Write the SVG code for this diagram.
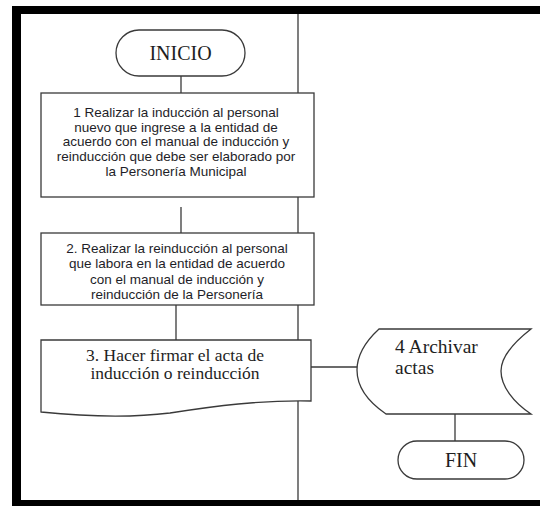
<svg xmlns="http://www.w3.org/2000/svg" width="540" height="506" viewBox="0 0 540 506">
<style>
.shape{fill:#fff;stroke:#3a3a3a;stroke-width:1.3}
.line{fill:none;stroke:#3a3a3a;stroke-width:1.3}
.sans{font-family:"Liberation Sans",Arial,sans-serif;font-size:13.5px;fill:#1e1e28;text-anchor:middle}
.serif{font-family:"Liberation Serif","Times New Roman",serif;fill:#1e1e1e}
</style>
<rect x="0" y="0" width="540" height="506" fill="#fff"/>
<g id="frame">
<rect x="12" y="6" width="528" height="8" fill="#000"/>
<rect x="12" y="6" width="9" height="500" fill="#000"/>
<rect x="12" y="500" width="528" height="6" fill="#000"/>
</g>
<g id="connectors">
<line class="line" x1="298" y1="14" x2="298" y2="500"/>
<line class="line" x1="181" y1="76" x2="181" y2="93"/>
<line class="line" x1="181" y1="207" x2="181" y2="233"/>
<line class="line" x1="176" y1="305" x2="176" y2="340"/>
<line class="line" x1="311" y1="367" x2="357" y2="367"/>
<line class="line" x1="455" y1="414" x2="455" y2="441"/>
</g>
<g id="inicio">
<rect class="shape" x="116" y="30" width="129" height="46" rx="23" ry="23"/>
<text class="serif" x="180.5" y="60" font-size="20" text-anchor="middle">INICIO</text>
</g>
<g id="paso1">
<rect class="shape" x="41" y="93" width="273" height="104"/>
<text class="sans" x="176" y="117">1 Realizar la inducción al personal</text>
<text class="sans" x="176" y="132">nuevo que ingrese a la entidad de</text>
<text class="sans" x="176" y="146">acuerdo con el manual de inducción y</text>
<text class="sans" x="176" y="161">reinducción que debe ser elaborado por</text>
<text class="sans" x="176" y="176">la Personería Municipal</text>
</g>
<g id="paso2">
<rect class="shape" x="41" y="233" width="273" height="72"/>
<text class="sans" x="177" y="253">2. Realizar la reinducción al personal</text>
<text class="sans" x="177" y="268">que labora en la entidad de acuerdo</text>
<text class="sans" x="177" y="284">con el manual de inducción y</text>
<text class="sans" x="177" y="299">reinducción de la Personería</text>
</g>
<g id="paso3">
<path class="shape" d="M41,340 H311 V401 C260,400 215,406 170,413 C130,418 80,416 41,412 Z"/>
<text class="serif" x="175" y="361" font-size="17.5" text-anchor="middle">3. Hacer firmar el acta de</text>
<text class="serif" x="175" y="379" font-size="17.5" text-anchor="middle">inducción o reinducción</text>
</g>
<g id="paso4">
<path class="shape" d="M379,329 H531 C513,343 501,358 501,371 C501,386 513,402 531,414 H386 C367,401 357,386 357,370 C357,355 366,341 379,329 Z"/>
<text class="serif" x="395" y="353" font-size="19.5">4 Archivar</text>
<text class="serif" x="395" y="374" font-size="19.5">actas</text>
</g>
<g id="fin">
<rect class="shape" x="398" y="441" width="126" height="38" rx="19" ry="19"/>
<text class="serif" x="461" y="467" font-size="20" text-anchor="middle">FIN</text>
</g>
</svg>
